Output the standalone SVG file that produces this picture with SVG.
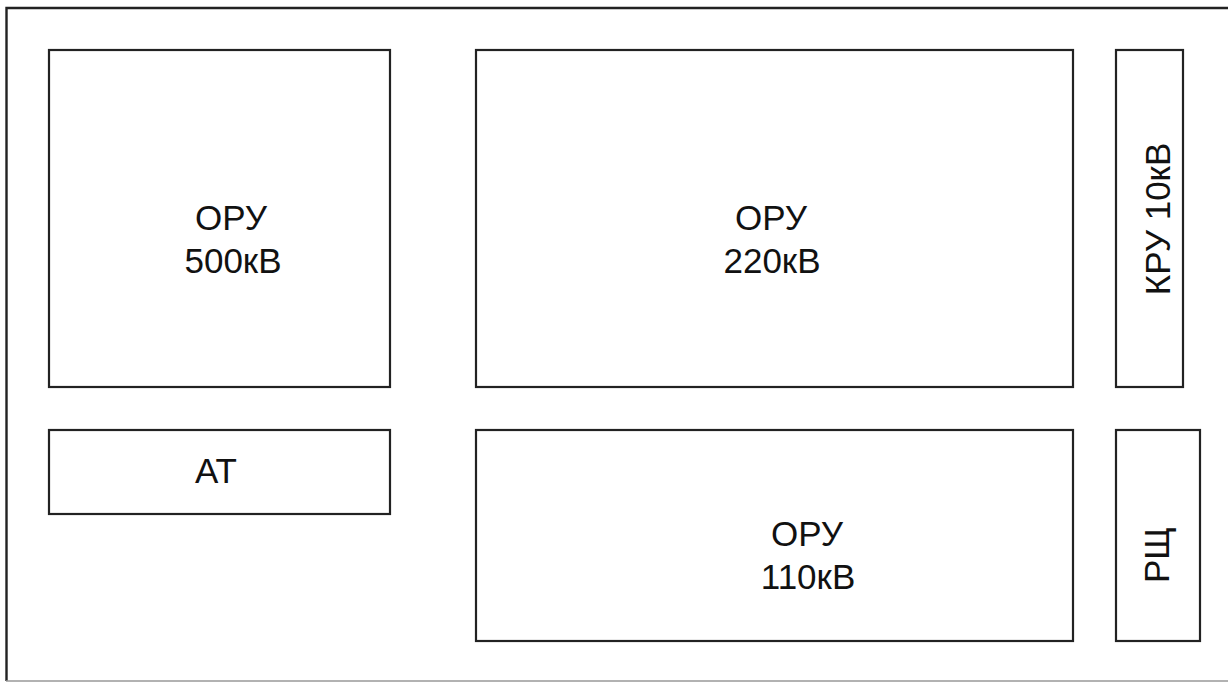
<svg xmlns="http://www.w3.org/2000/svg" width="1228" height="682" viewBox="0 0 1228 682">
<style>
.box{fill:#fff;stroke:#222;stroke-width:2.2}
.t{font-family:"Liberation Sans",Arial,sans-serif;font-size:35px;fill:#111;text-anchor:middle}
</style>
<rect width="1228" height="682" fill="#fff"/>
<g id="frame">
<path d="M1230,8 H6.5 V681" fill="none" stroke="#222" stroke-width="2.4"/>
<path d="M6,681 H1228" fill="none" stroke="#999" stroke-width="1.5"/>
</g>
<g id="oru500">
<rect class="box" x="49" y="50" width="341" height="337"/>
<text class="t" x="231" y="230">ОРУ</text>
<text class="t" x="233" y="273">500кВ</text>
</g>
<g id="oru220">
<rect class="box" x="476" y="50" width="597" height="337"/>
<text class="t" x="771" y="230">ОРУ</text>
<text class="t" x="772" y="273">220кВ</text>
</g>
<g id="kru10">
<rect class="box" x="1116" y="50" width="67" height="337"/>
<text class="t" transform="translate(1170,219) rotate(-90)" x="0" y="0">КРУ 10кВ</text>
</g>
<g id="at">
<rect class="box" x="49" y="430" width="341" height="84"/>
<text class="t" x="216" y="483">АТ</text>
</g>
<g id="oru110">
<rect class="box" x="476" y="430" width="597" height="211"/>
<text class="t" x="807" y="546">ОРУ</text>
<text class="t" x="808" y="589">110кВ</text>
</g>
<g id="rsh">
<rect class="box" x="1116" y="430" width="84" height="211"/>
<text class="t" transform="translate(1169,555) rotate(-90)" x="0" y="0">РЩ</text>
</g>
<g id="connectors"></g>
</svg>
